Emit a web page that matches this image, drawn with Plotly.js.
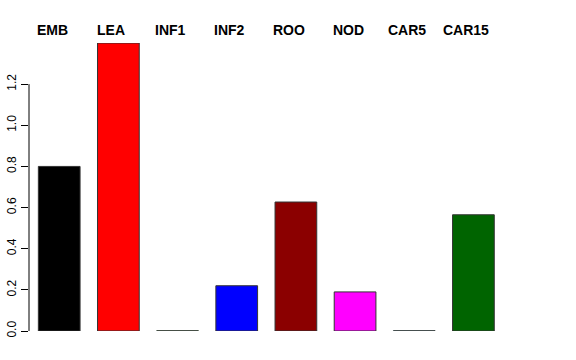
<!DOCTYPE html>
<html>
<head>
<meta charset="utf-8">
<script src="https://cdn.plot.ly/plotly-3.0.1.min.js"></script>
<style>html,body{margin:0;padding:0;background:#fff;}#chart{width:576px;height:360px;}</style>
</head>
<body>
<div id="chart"></div>
<script>
var categories = ["EMB", "LEA", "INF1", "INF2", "ROO", "NOD", "CAR5", "CAR15"];
var values = [0.80, 1.40, 0.001, 0.22, 0.627, 0.19, 0.001, 0.565];
var barColors = ["#000000", "#FF0000", "#00FF00", "#0000FF", "#8B0000", "#FF00FF", "#00FFFF", "#006400"];
var yTicks = [0, 0.2, 0.4, 0.6, 0.8, 1.0, 1.2];
var yTickText = ["0.0", "0.2", "0.4", "0.6", "0.8", "1.0", "1.2"];

var trace = {
  type: "bar",
  x: categories,
  y: values,
  width: 0.705,
  marker: { color: barColors, line: { color: "#333333", width: 1 } },
  hoverinfo: "none"
};

var annotations = categories.map(function (c) {
  return {
    x: c, xref: "x", y: 1.0 + (43 - 30) / 288, yref: "paper", yanchor: "middle",
    text: "<b>" + c + "</b>", showarrow: false, xshift: -7,
    font: { family: "Liberation Sans, Arial, sans-serif", size: 14, color: "#000" }
  };
});

var layout = {
  width: 576, height: 360,
  margin: { l: 29, r: 73.1, t: 43, b: 29, pad: 0 },
  paper_bgcolor: "#ffffff", plot_bgcolor: "#ffffff",
  showlegend: false,
  bargap: 0,
  xaxis: { type: "category", range: [-0.5105, 7.5], showgrid: false, zeroline: false,
           showline: false, showticklabels: false, ticks: "" },
  yaxis: { range: [0, 1.4], showgrid: false, zeroline: false, showline: false,
           tickmode: "array", tickvals: yTicks, ticktext: yTickText,
           ticks: "outside", ticklen: 7, tickwidth: 1, tickcolor: "#000",
           tickangle: -90,
           tickfont: { family: "Liberation Sans, Arial, sans-serif", size: 12, color: "#000" } },
  shapes: [{ type: "line", xref: "paper", x0: 0, x1: 0, yref: "y", y0: 0, y1: 1.2,
             line: { color: "#000", width: 1 } }],
  annotations: annotations,
  font: { family: "Liberation Sans, Arial, sans-serif" }
};

Plotly.newPlot("chart", [trace], layout, { staticPlot: true, displayModeBar: false });
</script>
</body>
</html>
